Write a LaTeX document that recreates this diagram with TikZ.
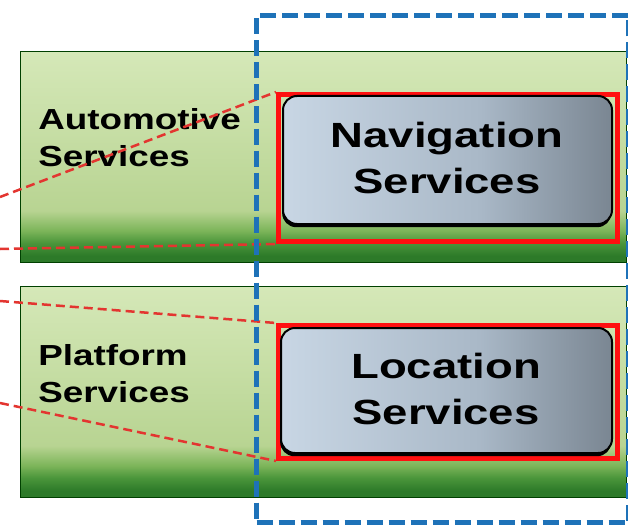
\documentclass[tikz,border=0pt]{standalone}
\usepackage{fontspec}
\setmainfont{Liberation Sans}
\definecolor{bandA}{HTML}{2D7A29}
\definecolor{bandB}{HTML}{4B963B}
\definecolor{bandC}{HTML}{7DB55A}
\definecolor{bandD}{HTML}{B8D492}
\definecolor{bandE}{HTML}{D5E8B8}
\definecolor{grayL}{HTML}{C8D6E4}
\definecolor{grayM}{HTML}{A9B8C7}
\definecolor{grayR}{HTML}{7A8692}
\definecolor{redbox}{HTML}{FF1010}
\definecolor{reddash}{HTML}{E33530}
\definecolor{bluedash}{HTML}{1E72B8}
\pgfdeclareverticalshading{bandshade}{100bp}{color(0bp)=(bandA); color(26.6bp)=(bandA); color(29.7bp)=(bandB); color(32.6bp)=(bandC); color(37.3bp)=(bandD); color(75bp)=(bandE); color(100bp)=(bandE)}
\pgfdeclarehorizontalshading{grayshade}{100bp}{color(0bp)=(grayL); color(25bp)=(grayL); color(55bp)=(grayM); color(75bp)=(grayR); color(100bp)=(grayR)}
\tikzset{
  band/.style={draw=black!75!green, line width=1pt, shading=bandshade, inner sep=0pt, anchor=north west},
  redframe/.style={draw=redbox, line width=5pt, inner sep=0pt, anchor=north west},
  svcbox/.style={draw=black, line width=2pt, rounded corners=14pt, shading=grayshade, inner sep=0pt, anchor=north west},
  svcshadow/.style={fill=black, rounded corners=14pt, inner sep=0pt, anchor=north west},
  lbl/.style={font=\fontsize{29}{37}\selectfont\bfseries, text=black, inner sep=0pt, xscale=1.27, transform shape, anchor=base west},
  svctxt/.style={font=\fontsize{35}{46}\selectfont\bfseries, text=black, inner sep=0pt, xscale=1.3, transform shape, anchor=base},
  link/.style={draw=reddash, line width=2.5pt, dash pattern=on 9pt off 5pt},
  region/.style={draw=bluedash, line width=5pt, dash pattern=on 16pt off 6pt}
}
\begin{document}
\begin{tikzpicture}[x=1pt,y=-1pt]
\useasboundingbox (0,0) rectangle (628,524);
\fill[white] (0,0) rectangle (628,524);
% bands
\node[band, minimum width=606pt, minimum height=211pt] (auto) at (20,51) {};
\node[band, minimum width=606pt, minimum height=211pt] (plat) at (20,286) {};
% band labels
\node[lbl] (autoA) at (38,129) {Automotive};
\node[lbl] (autoB) at (38,166) {Services};
\node[lbl] (platA) at (38,365) {Platform};
\node[lbl] (platB) at (38,402) {Services};
% red frames
\node[redframe, minimum width=339pt, minimum height=147pt] (navframe) at (276,92) {};
\node[redframe, minimum width=339pt, minimum height=133pt] (locframe) at (276,323) {};
% service boxes
\node[svcshadow, minimum width=329pt, minimum height=128pt] (navsh) at (282,99) {};
\node[svcbox, minimum width=329pt, minimum height=128pt] (nav) at (282,95) {};
\node[svcshadow, minimum width=331pt, minimum height=125pt] (locsh) at (280,331) {};
\node[svcbox, minimum width=331pt, minimum height=125pt] (loc) at (280,327) {};
\node[svctxt] (navA) at (447,147) {Navigation};
\node[svctxt] (navB) at (447,193) {Services};
\node[svctxt] (locA) at (446,378) {Location};
\node[svctxt] (locB) at (446,424) {Services};
% red dashed links
\coordinate (l1) at (0,197);
\coordinate (l2) at (0,249);
\coordinate (l3) at (0,301);
\coordinate (l4) at (0,403);
\draw[link] (l1) -- (navframe.north west);
\draw[link] (l2) -- (navframe.south west);
\draw[link] (l3) -- (locframe.north west);
\draw[link] (l4) -- (locframe.south west);
% blue dashed region
\node[region, inner sep=0pt, anchor=north west, minimum width=372pt, minimum height=507pt] (reg) at (254,13) {};
\end{tikzpicture}
\end{document}
